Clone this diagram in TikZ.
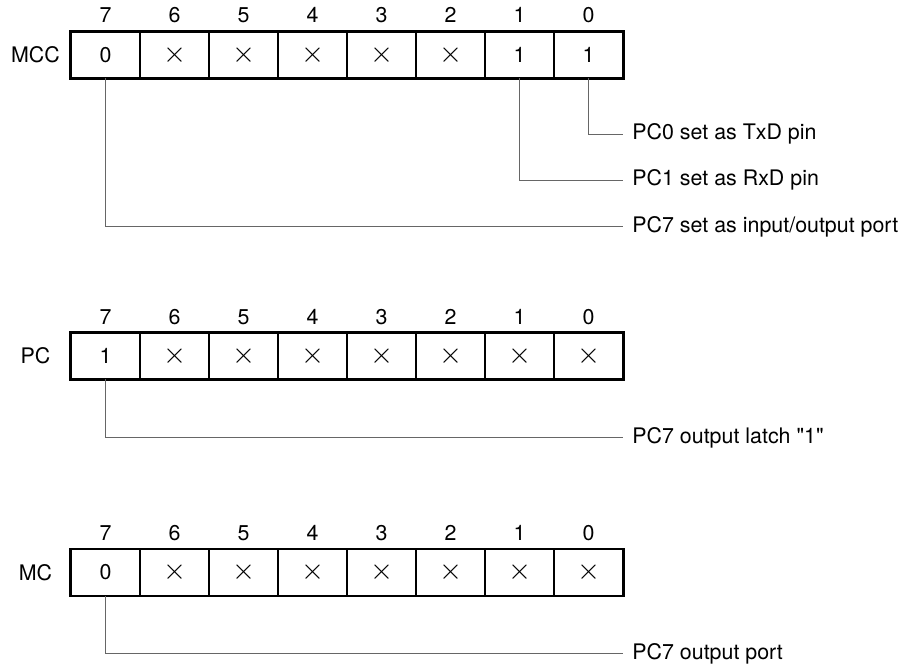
\documentclass[tikz,border=0pt]{standalone}
\usepackage{fontspec}
\setmainfont{TeX Gyre Heros}
\usetikzlibrary{positioning}

\newcommand{\dontcare}{\scalebox{1.35}{$\times$}}

\tikzset{
  txt/.style={font=\fontsize{10.7}{12}\selectfont},
  cell/.style={txt,draw,line width=0.6pt,minimum width=34.5pt,minimum height=23pt,inner sep=0pt},
  bitno/.style={txt,inner sep=0pt},
  regname/.style={txt,inner sep=0pt},
  frame/.style={line width=1.1pt},
  lead/.style={draw=black!60,line width=0.5pt},
  note/.style={txt,anchor=west,inner sep=5pt}
}

\begin{document}
\begin{tikzpicture}[x=0.5pt,y=-0.5pt,line cap=rect]
	\useasboundingbox (0,0) rectangle (902,665);
	
	% ---- MCC 寄存器 ----
	\node[regname] (mcc-name) at (35.5,55) {MCC};
	\foreach \b/\v in {7/0,6/\dontcare,5/\dontcare,4/\dontcare,3/\dontcare,2/\dontcare,1/1,0/1}{
		\node[cell] (mcc-\b) at ({105.5+(7-\b)*69},55) {\v};
		\node[bitno] (mccn-\b) at ({105.5+(7-\b)*69},15) {\b};
	}
	\draw[frame] (mcc-7.north west) rectangle (mcc-0.south east);
	
	% ---- MCC 说明 ----
	\node[note] (mcc-t0) at (622,134.3) {PC0 set as TxD pin};
	\node[note] (mcc-t1) at (622,180) {PC1 set as RxD pin};
	\node[note] (mcc-t7) at (622,226.7) {PC7 set as input/output port};
	\draw[lead] (mcc-0.south) |- (mcc-t0.west);
	\draw[lead] (mcc-1.south) |- (mcc-t1.west);
	\draw[lead] (mcc-7.south) |- (mcc-t7.west);
	
	% ---- PC 寄存器 ----
	\node[regname] (pc-name) at (35.5,356) {PC};
	\foreach \b/\v in {7/1,6/\dontcare,5/\dontcare,4/\dontcare,3/\dontcare,2/\dontcare,1/\dontcare,0/\dontcare}{
		\node[cell] (pc-\b) at ({105.5+(7-\b)*69},356) {\v};
		\node[bitno] (pcn-\b) at ({105.5+(7-\b)*69},317) {\b};
	}
	\draw[frame] (pc-7.north west) rectangle (pc-0.south east);
	
	\node[note] (pc-t7) at (622,437.7) {PC7 output latch \textquotedbl 1\textquotedbl};
	\draw[lead] (pc-7.south) |- (pc-t7.west);
	
	% ---- MC 寄存器 ----
	\node[regname] (mc-name) at (35.5,572.5) {MC};
	\foreach \b/\v in {7/0,6/\dontcare,5/\dontcare,4/\dontcare,3/\dontcare,2/\dontcare,1/\dontcare,0/\dontcare}{
		\node[cell] (mc-\b) at ({105.5+(7-\b)*69},572.5) {\v};
		\node[bitno] (mcn-\b) at ({105.5+(7-\b)*69},533) {\b};
	}
	\draw[frame] (mc-7.north west) rectangle (mc-0.south east);
	
	\node[note] (mc-t7) at (622,653.7) {PC7 output port};
	\draw[lead] (mc-7.south) |- (mc-t7.west);
	
\end{tikzpicture}
\end{document}
